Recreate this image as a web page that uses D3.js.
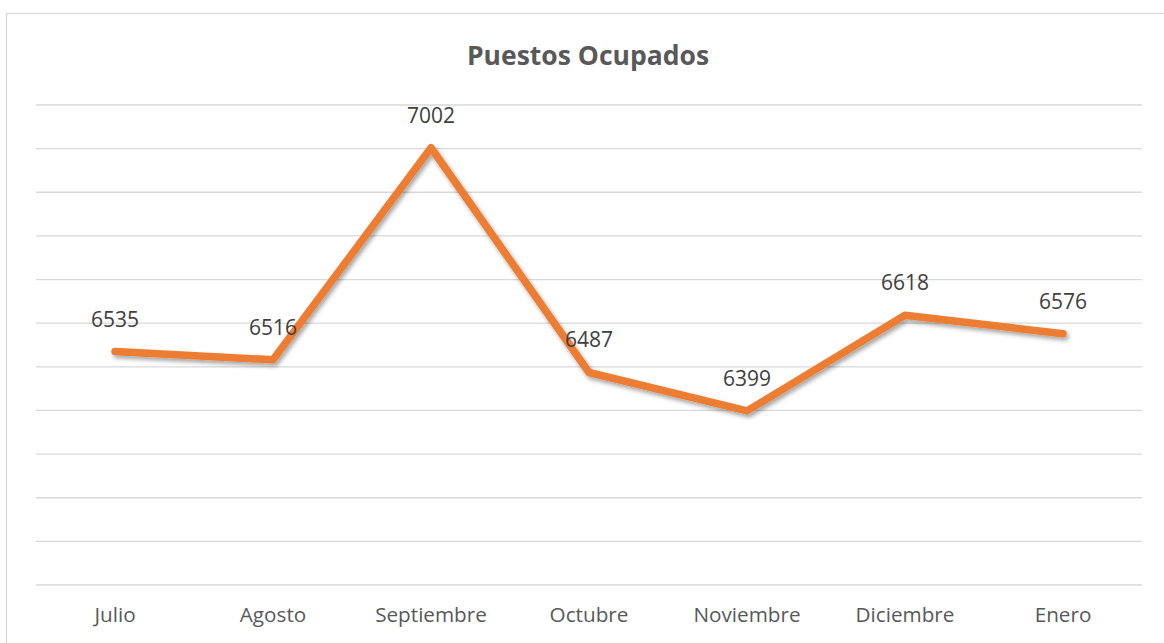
<!DOCTYPE html>
<html>
<head>
<meta charset="utf-8">
<script src="https://cdn.jsdelivr.net/npm/d3@7.9.0/dist/d3.min.js"></script>
<style>
  body { margin: 0; background: #fff; }
  svg { display: block; font-family: "Open Sans", sans-serif; }
</style>
</head>
<body>
<div id="viz"></div>
<script>
const months = ["Julio", "Agosto", "Septiembre", "Octubre", "Noviembre", "Diciembre", "Enero"];
const values = [6535, 6516, 7002, 6487, 6399, 6618, 6576];
const yTicks = [6000, 6100, 6200, 6300, 6400, 6500, 6600, 6700, 6800, 6900, 7000, 7100];

const width = 1164;
const height = 643;
const margin = { top: 105, right: 22, bottom: 58, left: 36 };

const svg = d3.select("#viz")
  .append("svg")
  .attr("width", width)
  .attr("height", height);

// drop shadow for the line
const defs = svg.append("defs");
defs.append("filter")
  .attr("id", "shadow")
  .attr("x", "-10%").attr("y", "-10%")
  .attr("width", "120%").attr("height", "130%")
  .append("feDropShadow")
  .attr("dx", 2).attr("dy", 3)
  .attr("stdDeviation", 2)
  .attr("flood-color", "#000")
  .attr("flood-opacity", 0.35);

// chart frame
svg.append("rect")
  .attr("x", 6.5)
  .attr("y", 13.5)
  .attr("width", width + 10)
  .attr("height", height + 10)
  .attr("fill", "#fff")
  .attr("stroke", "#d9d9d9")
  .attr("stroke-width", 1.3);

const x = d3.scaleBand()
  .domain(months)
  .range([margin.left, width - margin.right]);

const y = d3.scaleLinear()
  .domain([6000, 7100])
  .range([height - margin.bottom, margin.top]);

// gridlines
svg.append("g")
  .selectAll("line")
  .data(yTicks)
  .join("line")
  .attr("x1", margin.left)
  .attr("x2", width - margin.right)
  .attr("y1", d => y(d))
  .attr("y2", d => y(d))
  .attr("stroke", "#d9d9d9")
  .attr("stroke-width", 1.3);

// category axis labels
const xAxis = svg.append("g")
  .attr("transform", `translate(0,${height - margin.bottom})`)
  .call(d3.axisBottom(x).tickSize(0).tickPadding(0));
xAxis.select(".domain").remove();
xAxis.selectAll("text")
  .attr("dy", "37px")
  .attr("font-size", "20.7px")
  .attr("font-family", "'Open Sans', sans-serif")
  .attr("fill", "#595959");

const line = d3.line()
  .x((d, i) => x(months[i]) + x.bandwidth() / 2)
  .y(d => y(d));

svg.append("path")
  .datum(values)
  .attr("d", line)
  .attr("fill", "none")
  .attr("stroke", "#ed7d31")
  .attr("stroke-width", 7.5)
  .attr("stroke-linecap", "round")
  .attr("stroke-linejoin", "round")
  .attr("filter", "url(#shadow)");

// data labels
svg.append("g")
  .selectAll("text")
  .data(values)
  .join("text")
  .attr("x", (d, i) => x(months[i]) + x.bandwidth() / 2)
  .attr("y", d => y(d) - 25)
  .attr("text-anchor", "middle")
  .attr("font-size", "21px")
  .attr("fill", "#404040")
  .text(d => d);

// title
svg.append("text")
  .attr("x", 588)
  .attr("y", 65)
  .attr("text-anchor", "middle")
  .attr("font-size", "26.5px")
  .attr("font-weight", "bold")
  .attr("fill", "#595959")
  .text("Puestos Ocupados");
</script>
</body>
</html>
